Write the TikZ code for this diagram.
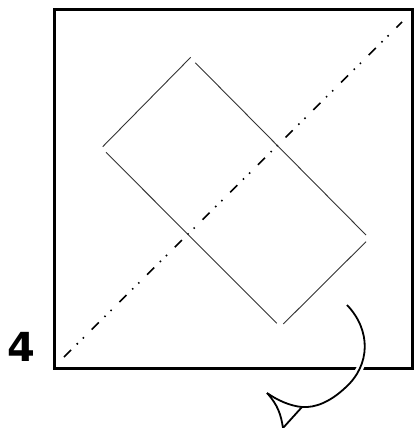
\documentclass[tikz,border=0pt]{standalone}
\usepackage{fontspec}
\newfontfamily\stepfont{DejaVu Sans}
\usepackage{tikz}
\usetikzlibrary{positioning,calc}

\begin{document}
\begin{tikzpicture}[x=1pt,y=-1pt,
   frame/.style={draw,line width=3pt},
   crease/.style={line width=1.6pt,dash pattern=on 10pt off 8pt on 1.5pt off 7pt on 1.5pt off 11pt},
   edge/.style={draw=black!80,line width=0.9pt},
   turn/.style={line width=1.8pt},
   num/.style={font=\stepfont\bfseries\fontsize{40}{40}\selectfont,inner sep=0pt}]
  \useasboundingbox (0,0) rectangle (416,428);
  % paper square and step number
  \coordinate (nw) at (54,9.5);
  \coordinate (se) at (412,368);
  \draw[frame] (nw) rectangle (se);
  \node[num] (n4) at (21,347) {4};
  % diagonal crease
  \coordinate (c1) at (64,357);
  \coordinate (c2) at (402,22);
  \draw[crease] (c1) -- (c2);
  % rotated rectangle, corners left open
  \coordinate (a1) at (102.7,146.7); \coordinate (a2) at (190.7,57.3);
  \coordinate (b1) at (195.3,62.7);  \coordinate (b2) at (366,235);
  \coordinate (d1) at (366,241.7);   \coordinate (d2) at (283.3,324);
  \coordinate (e1) at (276.7,323.3); \coordinate (e2) at (106,152.3);
  \draw[edge] (a1) -- (a2);
  \draw[edge] (b1) -- (b2);
  \draw[edge] (d1) -- (d2);
  \draw[edge] (e1) -- (e2);
  % turn-over arrow
  \coordinate (t0) at (347,305);
  \coordinate (t1) at (345,388);
  \coordinate (t2) at (302,407);
  \coordinate (tip) at (267,393);
  \coordinate (h) at (283,428);
  \draw[white,line width=7pt] (t0) .. controls (371,330) and (371,365) .. (t1);
  \draw[turn] (t0) .. controls (371,330) and (371,365) .. (t1)
     .. controls (330,402) and (315,408) .. (t2)
     .. controls (290,406) and (277,400) .. (tip);
  \draw[turn,line join=miter] (tip) .. controls (278,405) and (281,415) .. (h) -- (t2);
\end{tikzpicture}
\end{document}
